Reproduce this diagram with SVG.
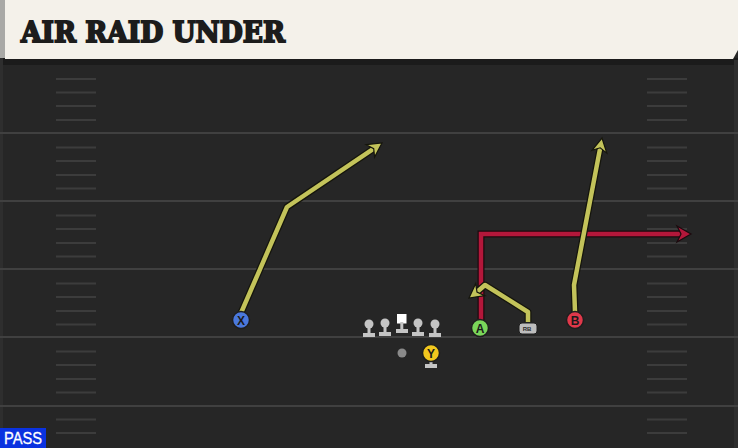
<svg xmlns="http://www.w3.org/2000/svg" width="738" height="448" viewBox="0 0 738 448">
<style>
.yl{stroke:#404040;stroke-width:2}
.hs{stroke:#3c3c3c;stroke-width:2}
.ry{fill:none;stroke:#15150c;stroke-width:7;stroke-linejoin:round;stroke-linecap:butt}
.ryi{fill:none;stroke:#c3c35a;stroke-width:4.5;stroke-linejoin:round;stroke-linecap:butt}
.rr{fill:none;stroke:#1a0a0e;stroke-width:7;stroke-linejoin:miter}
.rri{fill:none;stroke:#b3173a;stroke-width:4.5;stroke-linejoin:miter}
.ah-y{fill:#c3c35a;stroke:#15150c;stroke-width:1.2;stroke-linejoin:miter}
.ah-r{fill:#b3173a;stroke:#1a0a0e;stroke-width:1.2}
.pc{stroke:#1e1e1e;stroke-width:1.5}
.pl{font-family:"Liberation Sans",Arial,sans-serif;font-weight:bold;font-size:12px;fill:#1a1a1a;text-anchor:middle}
.ol{fill:#c4c4c4}
</style>
<rect x="0" y="0" width="738" height="448" fill="#262626"/>
<rect x="0" y="58" width="738" height="7" fill="#1b1b1b"/>
<rect x="0" y="0" width="3" height="448" fill="#2e2e2e"/>
<rect x="734" y="60" width="4" height="388" fill="#2e2e2e"/>
<g id="header">
<rect x="0" y="0" width="6" height="58" fill="#a9a9a6"/>
<polygon points="5,0 738,0 738,50 733,59 5,59" fill="#f4f1ea"/>
<text x="21" y="42" font-family="'DejaVu Serif',serif" font-weight="bold" font-size="27" fill="#1c1c1c" stroke="#1c1c1c" stroke-width="1.8" stroke-linejoin="miter" textLength="264" lengthAdjust="spacingAndGlyphs">AIR RAID UNDER</text>
</g>
<g id="field">
<line class="yl" x1="0" y1="133" x2="738" y2="133"/>
<line class="yl" x1="0" y1="201" x2="738" y2="201"/>
<line class="yl" x1="0" y1="269" x2="738" y2="269"/>
<line class="yl" x1="0" y1="337" x2="738" y2="337"/>
<line class="yl" x1="0" y1="406" x2="738" y2="406"/>
<g class="hs">
<path d="M56,79H96M56,92.5H96M56,106H96M56,120H96M56,147.5H96M56,161H96M56,175H96M56,188.5H96M56,215.5H96M56,229H96M56,243H96M56,256.5H96M56,283.5H96M56,297H96M56,311H96M56,324.5H96M56,351.5H96M56,365H96M56,379H96M56,392.5H96M56,419.5H96M56,433H96"/>
<path d="M647,79H687M647,92.5H687M647,106H687M647,120H687M647,147.5H687M647,161H687M647,175H687M647,188.5H687M647,215.5H687M647,229H687M647,243H687M647,256.5H687M647,283.5H687M647,297H687M647,311H687M647,324.5H687M647,351.5H687M647,365H687M647,379H687M647,392.5H687M647,419.5H687M647,433H687"/>
</g>
</g>
<g id="routes">
<path class="rr" d="M481,322 V234 H682"/>
<path class="rri" d="M481,322 V234 H682"/>
<polygon class="ah-r" points="691,234 677,242 681,234 677,226"/>
<path class="ry" d="M241,313 L287,207 L373.7,148.6"/>
<path class="ryi" d="M241,313 L287,207 L373.7,148.6"/>
<polygon class="ah-y" points="382,143 374.6,157.1 373.7,148.6 366.2,144.7"/>
<path class="ry" d="M575,312 L574,285 L600.2,147.8"/>
<path class="ryi" d="M575,312 L574,285 L600.2,147.8"/>
<polygon class="ah-y" points="602,138 606.8,153.1 600.2,147.8 592,150.3"/>
<path class="ry" d="M528,322 L528,312 L485,285 L477,292"/>
<path class="ryi" d="M528,322 L528,312 L485,285 L477,292"/>
<polygon class="ah-y" points="469,298 475.7,283.6 477,292 484.7,295.6"/>
</g>
<g id="X"><circle class="pc" cx="241" cy="320" r="8.5" fill="#4a78dc"/><text class="pl" x="241" y="324.5">X</text></g>
<g id="A"><circle class="pc" cx="480" cy="328" r="8.5" fill="#7ad65a"/><text class="pl" x="480" y="332.5">A</text></g>
<g id="B"><circle class="pc" cx="575" cy="320" r="8.5" fill="#e0384a"/><text class="pl" x="575" y="324.5">B</text></g>
<g id="Y"><rect x="425" y="364" width="12" height="4" fill="#c4c4c4"/><rect x="429.5" y="360" width="3" height="5" fill="#c4c4c4"/><circle class="pc" cx="431" cy="353" r="8.5" fill="#f2c81e"/><text class="pl" x="431" y="357.5">Y</text></g>
<g id="RB"><rect x="519" y="323" width="18" height="11" rx="3" fill="#bdbdbd" stroke="#1e1e1e" stroke-width="1"/><text x="527" y="331" font-family="'Liberation Sans',Arial,sans-serif" font-size="6" font-weight="bold" fill="#2a2a2a" text-anchor="middle">RB</text></g>
<g id="ball"><circle cx="402" cy="353" r="4.5" fill="#8a8a8a"/></g>
<g id="LT"><circle class="ol" cx="369" cy="324" r="4.5"/><rect class="ol" x="367.5" y="326" width="3" height="8"/><rect class="ol" x="363" y="333" width="12" height="4"/></g>
<g id="LG"><circle class="ol" cx="385" cy="323" r="4.5"/><rect class="ol" x="383.5" y="325" width="3" height="8"/><rect class="ol" x="379" y="332" width="12" height="4"/></g>
<g id="C"><rect x="397" y="314" width="9.5" height="9.5" fill="#ffffff"/><rect class="ol" x="400.3" y="322" width="3" height="8"/><rect class="ol" x="396" y="329" width="12" height="4"/></g>
<g id="RG"><circle class="ol" cx="418" cy="323" r="4.5"/><rect class="ol" x="416.5" y="325" width="3" height="8"/><rect class="ol" x="412" y="332" width="12" height="4"/></g>
<g id="RT"><circle class="ol" cx="435" cy="324" r="4.5"/><rect class="ol" x="433.5" y="326" width="3" height="8"/><rect class="ol" x="429" y="333" width="12" height="4"/></g>
<g id="pass"><rect x="0" y="428" width="46" height="20" fill="#0a32e0"/><text x="4" y="444" font-family="'Liberation Sans',Arial,sans-serif" font-size="16" fill="#ffffff" stroke="#ffffff" stroke-width="0.3" textLength="38" lengthAdjust="spacingAndGlyphs">PASS</text></g>
</svg>
